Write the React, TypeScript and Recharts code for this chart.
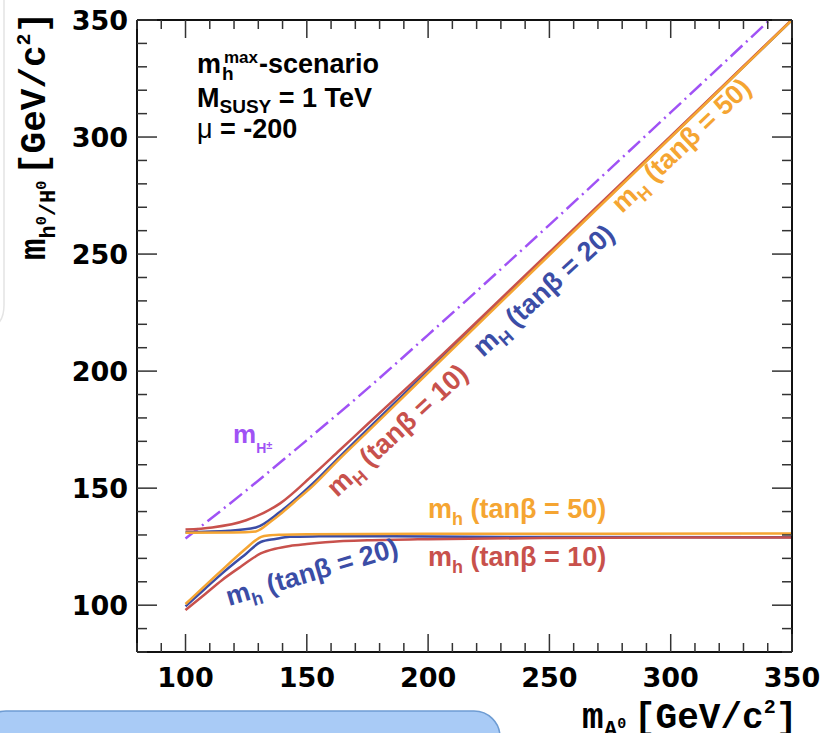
import React from "react";
import { LineChart, Line, XAxis, YAxis } from "recharts";

// m_A [GeV] and masses [GeV]
const mHpmX = [100, 125, 150, 175, 200, 250, 300, 341];
const mHpmY = [128.5, 149, 170.5, 192.5, 215.5, 262.5, 310.5, 350.2];

const mHeavy10X = [100, 111, 125, 139, 152.5, 163.5, 175, 200, 250, 300, 350];
const mHeavy10Y = [132.3, 133.2, 136.3, 143.5, 155.6, 166.2, 177.3, 201.3, 250.8, 300.4, 350.2];

const mHeavy20X = [100, 118, 129, 139, 152.5, 163.5, 200, 250, 300, 350];
const mHeavy20Y = [131.2, 131.8, 133.2, 139.9, 152, 163.4, 200.2, 250.1, 300, 350];

const mHeavy50X = [100, 120, 129, 131, 134, 139, 145, 152.5, 163.5, 175, 200, 250, 300, 350];
const mHeavy50Y = [130.9, 131, 131.5, 132.5, 134.8, 138.8, 144.2, 151, 162.5, 174, 199.3, 249.6, 299.8, 350];

const mLight10X = [100, 108, 115, 123, 131, 137, 143, 150, 163.5, 175, 200, 250, 300, 350];
const mLight10Y = [97.9, 104.7, 110.7, 116.6, 122.1, 124.1, 125.3, 126.1, 127.3, 127.7, 128.2, 128.7, 128.9, 128.9];

const mLight20X = [100, 108, 115, 125, 131, 137, 143, 155, 170, 200, 250, 350];
const mLight20Y = [99.5, 107, 113.5, 122, 127, 128.3, 129.2, 129.4, 129.5, 129.3, 129.1, 129.0];

const mLight50X = [100, 115, 125, 129, 131.2, 134, 140, 150, 200, 350];
const mLight50Y = [100.5, 115, 124.3, 127.8, 129.2, 129.8, 130.1, 130.3, 130.5, 130.6];

const axisTicks = [80, 90, 100, 110, 120, 130, 140, 150, 160, 170, 180, 190, 200, 210, 220, 230, 240, 250, 260, 270, 280, 290, 300, 310, 320, 330, 340, 350];

const toPts = (xs: number[], ys: number[]) => xs.map((x, i) => ({ x, y: ys[i] }));

const RED = "#C8514C";
const BLUE = "#3B4DA6";
const ORANGE = "#F5A532";
const PURPLE = "#A052F5";

const tickFont = { fontFamily: "'DejaVu Sans', sans-serif", fontWeight: "bold" as const, fontSize: 27, fill: "#000" };
const txtFont = "'Liberation Sans', Arial, sans-serif";
const monoFont = "'Liberation Mono', 'Courier New', monospace";

const isMajor = (v: number) => v % 50 === 0;
const showLabel = (v: number) => isMajor(v) && v >= 100;

function BottomTick(props: any) {
  const { x, y, payload } = props;
  const v = payload.value;
  return (
    <g>
      <line x1={x} x2={x} y1={y} y2={y - (isMajor(v) ? 18 : 9)} stroke="#333" strokeWidth={1.5} />
      {showLabel(v) && (
        <text x={x} y={y + 35} textAnchor="middle" {...tickFont}>
          {v}
        </text>
      )}
    </g>
  );
}

function TopTick(props: any) {
  const { x, y, payload } = props;
  const v = payload.value;
  return <line x1={x} x2={x} y1={y} y2={y + (isMajor(v) ? 18 : 9)} stroke="#333" strokeWidth={1.5} />;
}

function LeftTick(props: any) {
  const { x, y, payload } = props;
  const v = payload.value;
  return (
    <g>
      <line x1={x} x2={x + (isMajor(v) ? 20 : 10)} y1={y} y2={y} stroke="#333" strokeWidth={1.5} />
      {showLabel(v) && (
        <text x={x - 9} y={y + 10} textAnchor="end" {...tickFont}>
          {v}
        </text>
      )}
    </g>
  );
}

function RightTick(props: any) {
  const { x, y, payload } = props;
  const v = payload.value;
  return <line x1={x} x2={x - (isMajor(v) ? 20 : 10)} y1={y} y2={y} stroke="#333" strokeWidth={1.5} />;
}

function Overlay() {
  const pre = { whiteSpace: "pre" as const };
  return (
    <svg width={826} height={733} style={{ position: "absolute", left: 0, top: 0, pointerEvents: "none" }}>
      {/* slide decorations */}
      <path d="M 4 0 L 4 305 Q 4 330 -20 330" fill="none" stroke="#e4e4e4" strokeWidth={1.5} />
      <rect x={-20} y={711} width={520} height={60} rx={26} fill="#A9CBF6" stroke="#6E9CD3" strokeWidth={1.5} />

      {/* scenario box */}
      <g fontFamily={txtFont} fontWeight="bold" fill="#000" style={pre}>
        <text y={73} fontSize={27}>
          <tspan x={197}>m</tspan>
          <tspan x={222} y={80} fontSize={19}>h</tspan>
          <tspan x={224} y={63} fontSize={17}>max</tspan>
          <tspan x={259} y={73}>-scenario</tspan>
        </text>
        <text x={197} y={107} fontSize={27}>
          M<tspan dy={6} fontSize={19}>SUSY</tspan>
          <tspan dy={-6}> = 1 TeV</tspan>
        </text>
        <text x={197} y={138} fontSize={27}>
          <tspan fontWeight="normal">μ</tspan> = -200
        </text>
      </g>

      {/* curve labels */}
      <g fontFamily={txtFont} fontWeight="bold" fontSize={27} style={pre}>
        <text x={233} y={443} fill={PURPLE} fontSize={26}>
          m<tspan dy={10} fontSize={14}>H</tspan>
          <tspan dy={-4} fontSize={11}>±</tspan>
        </text>
        <text transform="translate(337,498) rotate(-42.6)" fill={RED}>
          m<tspan dy={7} fontSize={18}>H</tspan>
          <tspan dy={-7}> (tanβ = 10)</tspan>
        </text>
        <text transform="translate(483,358) rotate(-42.4)" fill={BLUE}>
          m<tspan dy={7} fontSize={18}>H</tspan>
          <tspan dy={-7}> (tanβ = 20)</tspan>
        </text>
        <text transform="translate(622,214) rotate(-43.5)" fill={ORANGE}>
          m<tspan dy={7} fontSize={18}>H</tspan>
          <tspan dy={-7}> (tanβ = 50)</tspan>
        </text>
        <text x={428} y={518} fill={ORANGE}>
          m<tspan dy={7} fontSize={18}>h</tspan>
          <tspan dy={-7}> (tanβ = 50)</tspan>
        </text>
        <text x={428} y={566} fill={RED}>
          m<tspan dy={7} fontSize={18}>h</tspan>
          <tspan dy={-7}> (tanβ = 10)</tspan>
        </text>
        <text transform="translate(229,606) rotate(-16.5)" fill={BLUE}>
          m<tspan dy={7} fontSize={18}>h</tspan>
          <tspan dy={-7}> (tanβ = 20)</tspan>
        </text>
      </g>

      {/* axis titles */}
      <g fontFamily={monoFont} fontWeight="bold" fill="#000" style={pre}>
        <text y={728} fontSize={36}>
          <tspan x={582}>m</tspan>
          <tspan x={604} y={736} fontSize={22}>A</tspan>
          <tspan y={728} fontSize={15}>0</tspan>
          <tspan x={634} y={728}>[GeV/c</tspan>
          <tspan y={713} fontSize={20}>2</tspan>
          <tspan y={728}>]</tspan>
        </text>
        <text transform="translate(45,260) rotate(-90)" fontSize={36}>
          <tspan x={0} y={0}>m</tspan>
          <tspan y={10} fontSize={22}>h</tspan>
          <tspan y={1} fontSize={15}>0</tspan>
          <tspan y={10} fontSize={22}>/H</tspan>
          <tspan y={1} fontSize={15}>0</tspan>
          <tspan x={85} y={0}>[GeV/c</tspan>
          <tspan y={-15} fontSize={20}>2</tspan>
          <tspan y={0}>]</tspan>
        </text>
      </g>
    </svg>
  );
}

export default function App() {
  const frame = { stroke: "#111", strokeWidth: 2 };
  return (
    <div style={{ position: "absolute", left: 0, top: 0, width: 826, height: 733, background: "#fff", overflow: "hidden" }}>
      <LineChart width={826} height={733} margin={{ top: 19, right: 33, bottom: 80, left: 136 }}>
        <XAxis
          dataKey="x"
          type="number"
          domain={[80, 350]}
          allowDataOverflow
          ticks={axisTicks}
          interval={0}
          height={1}
          tickSize={0}
          tickMargin={0}
          tickLine={false}
          tick={BottomTick}
          axisLine={frame}
        />
        <XAxis
          xAxisId="top"
          orientation="top"
          dataKey="x"
          type="number"
          domain={[80, 350]}
          allowDataOverflow
          ticks={axisTicks}
          interval={0}
          height={1}
          tickSize={0}
          tickMargin={0}
          tickLine={false}
          tick={TopTick}
          axisLine={frame}
        />
        <YAxis
          type="number"
          domain={[80, 350]}
          allowDataOverflow
          ticks={axisTicks}
          interval={0}
          width={1}
          tickSize={0}
          tickMargin={0}
          tickLine={false}
          tick={LeftTick}
          axisLine={frame}
        />
        <YAxis
          yAxisId="right"
          orientation="right"
          type="number"
          domain={[80, 350]}
          allowDataOverflow
          ticks={axisTicks}
          interval={0}
          width={1}
          tickSize={0}
          tickMargin={0}
          tickLine={false}
          tick={RightTick}
          axisLine={frame}
        />
        <Line data={toPts(mHpmX, mHpmY)} dataKey="y" type="monotone" stroke={PURPLE} strokeWidth={2.5} strokeDasharray="16 5 2 5" dot={false} isAnimationActive={false} />
        <Line data={toPts(mLight20X, mLight20Y)} dataKey="y" type="monotone" stroke={BLUE} strokeWidth={2.5} dot={false} isAnimationActive={false} />
        <Line data={toPts(mHeavy20X, mHeavy20Y)} dataKey="y" type="monotone" stroke={BLUE} strokeWidth={2.5} dot={false} isAnimationActive={false} />
        <Line data={toPts(mLight10X, mLight10Y)} dataKey="y" type="monotone" stroke={RED} strokeWidth={2.5} dot={false} isAnimationActive={false} />
        <Line data={toPts(mHeavy10X, mHeavy10Y)} dataKey="y" type="monotone" stroke={RED} strokeWidth={2.5} dot={false} isAnimationActive={false} />
        <Line data={toPts(mLight50X, mLight50Y)} dataKey="y" type="monotone" stroke={ORANGE} strokeWidth={2.5} dot={false} isAnimationActive={false} />
        <Line data={toPts(mHeavy50X, mHeavy50Y)} dataKey="y" type="monotone" stroke={ORANGE} strokeWidth={2.5} dot={false} isAnimationActive={false} />
      </LineChart>
      <Overlay />
    </div>
  );
}
